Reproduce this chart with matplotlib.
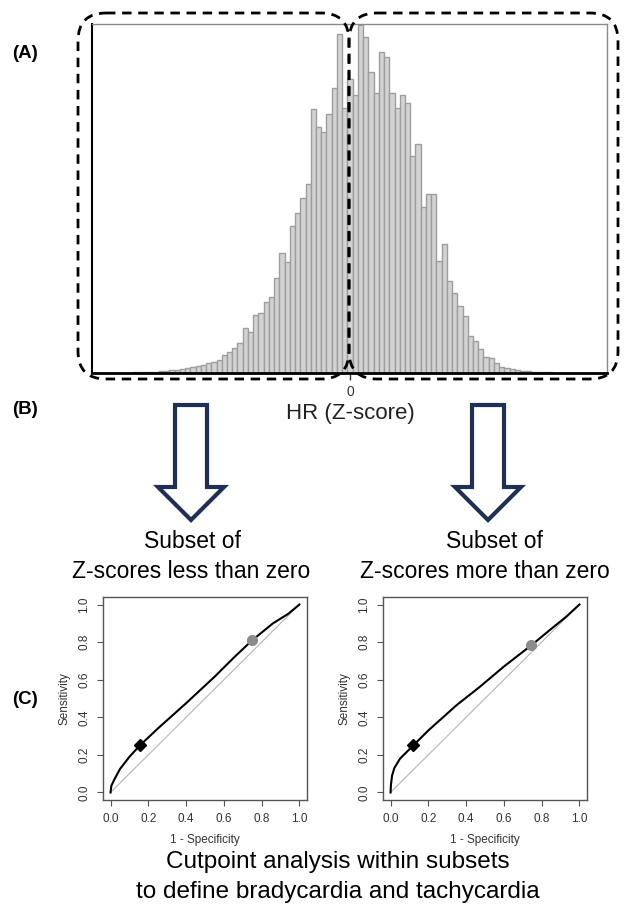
import numpy as np
import matplotlib
matplotlib.use("Agg")
import matplotlib.pyplot as plt
from matplotlib.patches import FancyBboxPatch, Polygon

plt.rcParams['font.family'] = ['Liberation Sans', 'DejaVu Sans']

# histogram of HR z-scores (bin centres -4.9 .. 4.9, width 0.1)
z_centers = np.round(np.arange(-49, 50) / 10.0, 1)
counts = [1, 1, 2, 2, 2, 3, 4, 5, 6, 8,
          10, 12, 15, 18, 22, 27, 33, 40, 50, 60,
          70, 85, 100, 115, 135, 185, 213, 247, 303, 447,
          407, 580, 603, 713, 757, 953, 1197, 1107, 1470, 1597,
          1747, 1890, 2637, 2457, 2407, 2590, 2847, 3390, 2647, 2937,
          2780, 3480, 3363, 3007, 2803, 3213, 3157, 2803, 2647, 2780,
          2703, 2170, 2287, 1663, 1790, 1790, 1123, 1290, 923, 803,
          673, 570, 370, 320, 237, 157, 147, 103, 63, 50,
          40, 32, 25, 20, 15, 11, 8, 6, 4, 3,
          2, 2, 1, 1, 1, 0, 0, 0, 0]

# ROC curves
left_fpr = [0, 0.004, 0.018, 0.05, 0.10, 0.155, 0.25, 0.40, 0.55, 0.65, 0.75, 0.86, 0.94, 1.0]
left_tpr = [0, 0.035, 0.065, 0.125, 0.19, 0.25, 0.34, 0.475, 0.615, 0.715, 0.81, 0.90, 0.95, 1.0]
right_fpr = [0, 0.002, 0.008, 0.02, 0.05, 0.12, 0.2, 0.3, 0.35, 0.47, 0.6, 0.75, 0.85, 0.93, 1.0]
right_tpr = [0, 0.04, 0.09, 0.13, 0.18, 0.25, 0.33, 0.42, 0.465, 0.56, 0.67, 0.787, 0.87, 0.935, 1.0]
left_cut = (0.155, 0.25)
left_ref = (0.748, 0.81)
right_cut = (0.118, 0.25)
right_ref = (0.744, 0.787)
roc_ticks = [0.0, 0.2, 0.4, 0.6, 0.8, 1.0]

W, H = 624, 923
fig = plt.figure(figsize=(W / 100, H / 100), dpi=100)


def px_axes(x0, y0, x1, y1):
    return fig.add_axes([x0 / W, 1 - y1 / H, (x1 - x0) / W, (y1 - y0) / H])


# (A) histogram
ax = px_axes(92, 24, 607, 373)
ax.bar(z_centers, counts, width=0.1, color='#d3d3d3', edgecolor='#9e9e9e', linewidth=1)
ax.set_xlim(-4.93, 4.91)
ax.set_ylim(0, 3490)
ax.set_yticks([])
ax.set_xticks([0])
ax.set_xticklabels(['0'], fontsize=10, color='#333333')
ax.tick_params(axis='x', length=5, width=1, color='#333333', pad=4)
for s in ['top', 'right']:
    ax.spines[s].set_color('#8a8a8a')
    ax.spines[s].set_linewidth(1)
ax.spines['left'].set_color('black')
ax.spines['left'].set_linewidth(1.5)
ax.spines['bottom'].set_color('black')
ax.spines['bottom'].set_linewidth(2)


def roc_panel(x0, fpr, tpr, cut, ref):
    a = px_axes(x0, 597, x0 + 204, 800)
    a.plot([0, 1], [0, 1], color='#b5b5b5', lw=0.8)
    a.plot(fpr, tpr, color='black', lw=1.5)
    a.plot(*cut, marker='D', color='black', ms=6)
    a.plot(*ref, marker='o', color='#8c8c8c', ms=7)
    a.set_xlim(-0.04, 1.04)
    a.set_ylim(-0.04, 1.04)
    a.set_xticks(roc_ticks)
    a.set_yticks(roc_ticks)
    a.set_xticklabels(['%.1f' % t for t in roc_ticks], fontsize=8.5, color='#333333')
    a.set_yticklabels(['%.1f' % t for t in roc_ticks], fontsize=8.5, color='#333333',
                      rotation=90, va='center')
    a.tick_params(length=4, width=0.8, color='#555555', pad=5)
    for s in a.spines.values():
        s.set_color('#555555')
        s.set_linewidth(1)
    a.set_xlabel('1 - Specificity', fontsize=8.5, color='#333333', labelpad=7)
    a.set_ylabel('Sensitivity', fontsize=8.5, color='#333333', labelpad=6)
    return a


roc_panel(103, left_fpr, left_tpr, left_cut, left_ref)
roc_panel(383, right_fpr, right_tpr, right_cut, right_ref)

# overlay in pixel coordinates
ov = fig.add_axes([0, 0, 1, 1], zorder=10)
ov.set_xlim(0, W)
ov.set_ylim(H, 0)
ov.axis('off')
ov.patch.set_alpha(0)

for x0, x1 in [(78, 349), (349, 618)]:
    box = FancyBboxPatch((x0, 13), x1 - x0, 366,
                         boxstyle='round,pad=0,rounding_size=28',
                         fill=False, edgecolor='black', linewidth=2,
                         linestyle=(0, (3.4, 2.4)))
    ov.add_patch(box)

navy = '#1f3057'
for cx in [191, 488]:
    sw, hw = 16, 33
    top, base, tip = 405, 487, 520
    pts = [(cx - sw, top), (cx + sw, top), (cx + sw, base), (cx + hw, base),
           (cx, tip), (cx - hw, base), (cx - sw, base)]
    ov.add_patch(Polygon(pts, closed=True, facecolor='white', edgecolor=navy,
                         linewidth=3, joinstyle='miter'))

ov.text(350, 413, 'HR (Z-score)', fontsize=16, ha='center', va='center', color='#222222')
ov.text(12, 53, '(A)', fontsize=13.5, fontweight='bold', ha='left', va='center')
ov.text(12, 410, '(B)', fontsize=13.5, fontweight='bold', ha='left', va='center')
ov.text(12, 700, '(C)', fontsize=13.5, fontweight='bold', ha='left', va='center')

ov.text(192, 542, 'Subset of', fontsize=16.5, ha='center', va='center')
ov.text(191, 571, 'Z-scores less than zero', fontsize=16.5, ha='center', va='center')
ov.text(494, 542, 'Subset of', fontsize=16.5, ha='center', va='center')
ov.text(485, 571, 'Z-scores more than zero', fontsize=16.5, ha='center', va='center')

ov.text(338, 862, 'Cutpoint analysis within subsets', fontsize=17.5, ha='center', va='center')
ov.text(338, 892, 'to define bradycardia and tachycardia', fontsize=17.5, ha='center', va='center')

fig.savefig('out.png', dpi=100, facecolor='white')
